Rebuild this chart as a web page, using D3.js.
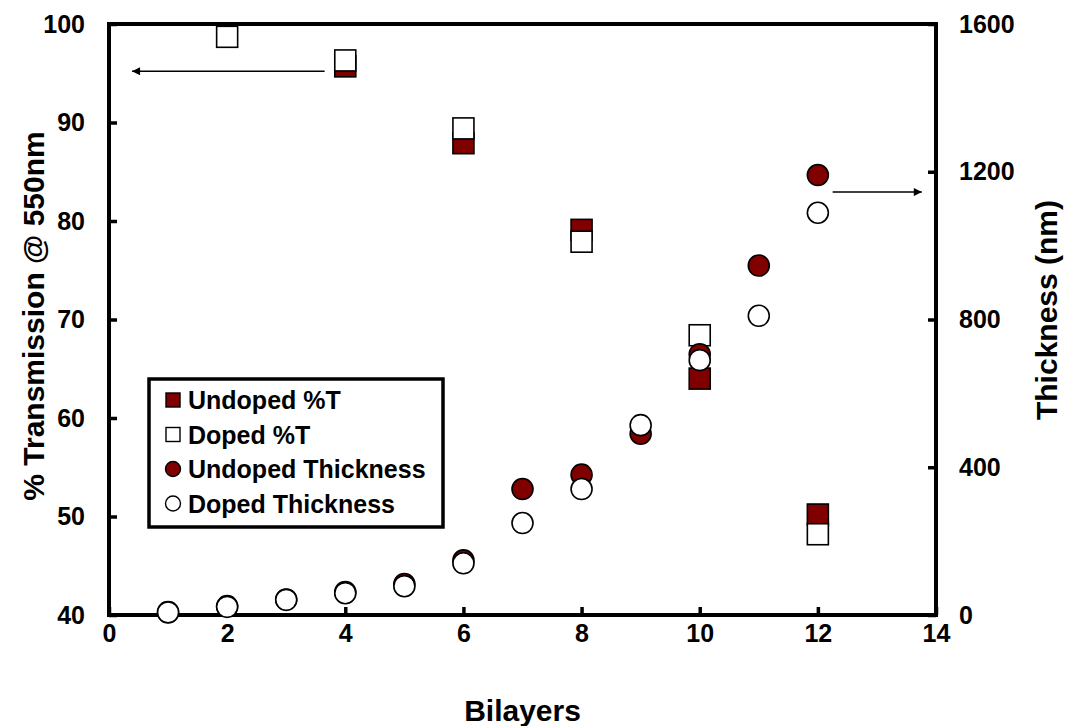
<!DOCTYPE html>
<html>
<head>
<meta charset="utf-8">
<script src="https://cdn.jsdelivr.net/npm/d3@7"></script>
<style>
  html, body { margin: 0; padding: 0; background: #fff; }
  svg text { font-family: "Liberation Sans", Arial, sans-serif; font-weight: bold; fill: #000; }
</style>
</head>
<body>
<svg id="chart" width="1065" height="726"></svg>
<script>
// Transmission (%) at 550 nm vs bilayer count
const tBilayers = [2, 4, 6, 8, 10, 12];
const undopedT = [null, 95.7, 87.9, 79.1, 64.0, 50.2];
const dopedT = [98.7, 96.3, 89.4, 77.9, 68.4, 48.2];

// Film thickness (nm) vs bilayer count
const thBilayers = [1, 2, 3, 4, 5, 6, 7, 8, 9, 10, 11, 12];
const undopedThick = [8, 24, 42, 62, 84, 148, 341, 380, 491, 706, 946, 1191];
const dopedThick = [7, 22, 41, 59, 78, 140, 249, 341, 514, 690, 810, 1089];

const xTicks = [0, 2, 4, 6, 8, 10, 12, 14];
const yLeftTicks = [40, 50, 60, 70, 80, 90, 100];
const yRightTicks = [0, 400, 800, 1200, 1600];

const legendItems = ["Undoped %T", "Doped %T", "Undoped Thickness", "Doped Thickness"];

const DARK_RED = "#800000";

const svg = d3.select("#chart");
const L = 109, R = 936, T = 24, B = 615;

const x = d3.scaleLinear().domain([0, 14]).range([L, R]);
const yL = d3.scaleLinear().domain([40, 100]).range([B, T]);
const yR = d3.scaleLinear().domain([0, 1600]).range([B, T]);

const axisStyle = g => {
  g.selectAll(".domain").remove();
  g.selectAll(".tick line").attr("stroke", "#000").attr("stroke-width", 3.5);
  g.selectAll(".tick text").style("font-size", "25px");
};

// bottom axis, ticks pointing inward
svg.append("g").attr("transform", `translate(0,${B})`)
  .call(d3.axisBottom(x).tickValues(xTicks).tickSize(-8).tickPadding(9).tickFormat(d3.format("d")))
  .call(axisStyle)
  .call(g => g.selectAll(".tick text").attr("dy", "0.71em"));

svg.append("g").attr("transform", `translate(${L},0)`)
  .call(d3.axisLeft(yL).tickValues(yLeftTicks).tickSize(-8).tickPadding(24).tickFormat(d3.format("d")))
  .call(axisStyle);

svg.append("g").attr("transform", `translate(${R},0)`)
  .call(d3.axisRight(yR).tickValues(yRightTicks).tickSize(-8).tickPadding(23).tickFormat(d3.format("d")))
  .call(axisStyle);

// frame
svg.append("rect").attr("x", L).attr("y", T).attr("width", R - L).attr("height", B - T)
  .attr("fill", "none").attr("stroke", "#000").attr("stroke-width", 4);

// axis titles
svg.append("text").attr("x", (L + R) / 2).attr("y", 721).attr("text-anchor", "middle")
  .style("font-size", "30px").text("Bilayers");
svg.append("text").attr("transform", "translate(44,316) rotate(-90)")
  .attr("text-anchor", "middle").style("font-size", "30px").text("% Transmission @ 550nm");
svg.append("text").attr("transform", "translate(1057,310) rotate(-90)")
  .attr("text-anchor", "middle").style("font-size", "30px").text("Thickness (nm)");

// arrows pointing to each series' axis
const defs = svg.append("defs");
defs.append("marker").attr("id", "arrowhead").attr("viewBox", "0 0 10 10")
  .attr("refX", 10).attr("refY", 5).attr("markerWidth", 10).attr("markerHeight", 8)
  .attr("markerUnits", "userSpaceOnUse").attr("orient", "auto")
  .append("path").attr("d", "M0,0 L10,5 L0,10 Z").attr("fill", "#000");

svg.append("line").attr("x1", x(3.65)).attr("x2", x(0.39)).attr("y1", yL(95.2)).attr("y2", yL(95.2))
  .attr("stroke", "#000").attr("stroke-width", 1.5).attr("marker-end", "url(#arrowhead)");
svg.append("line").attr("x1", x(12.25)).attr("x2", x(13.76)).attr("y1", yR(1145)).attr("y2", yR(1145))
  .attr("stroke", "#000").attr("stroke-width", 1.5).attr("marker-end", "url(#arrowhead)");

const S = 21; // marker size
const plot = svg.append("g");

function squares(vals, fill) {
  plot.append("g").selectAll("rect")
    .data(tBilayers.map((b, i) => [b, vals[i]]).filter(d => d[1] != null))
    .join("rect")
    .attr("x", d => x(d[0]) - S / 2).attr("y", d => yL(d[1]) - S / 2)
    .attr("width", S).attr("height", S)
    .attr("fill", fill).attr("stroke", "#000").attr("stroke-width", 1.6);
}
function circles(vals, fill) {
  plot.append("g").selectAll("circle")
    .data(thBilayers.map((b, i) => [b, vals[i]]))
    .join("circle")
    .attr("cx", d => x(d[0])).attr("cy", d => yR(d[1])).attr("r", S / 2)
    .attr("fill", fill).attr("stroke", "#000").attr("stroke-width", 1.6);
}
squares(undopedT, DARK_RED);
squares(dopedT, "#fff");
circles(undopedThick, DARK_RED);
circles(dopedThick, "#fff");

// legend
const lg = svg.append("g");
lg.append("rect").attr("x", 149).attr("y", 379).attr("width", 294).attr("height", 148)
  .attr("fill", "#fff").attr("stroke", "#000").attr("stroke-width", 3.5);
const fills = [DARK_RED, "#fff", DARK_RED, "#fff"];
legendItems.forEach((label, i) => {
  const cy = 400 + i * 34.5;
  if (i < 2) {
    lg.append("rect").attr("x", 166).attr("y", cy - 7).attr("width", 14).attr("height", 14)
      .attr("fill", fills[i]).attr("stroke", "#000").attr("stroke-width", 1.4);
  } else {
    lg.append("circle").attr("cx", 173).attr("cy", cy).attr("r", 7.5)
      .attr("fill", fills[i]).attr("stroke", "#000").attr("stroke-width", 1.4);
  }
  lg.append("text").attr("x", 188).attr("y", cy + 9).style("font-size", "25px").text(label);
});
</script>
</body>
</html>
